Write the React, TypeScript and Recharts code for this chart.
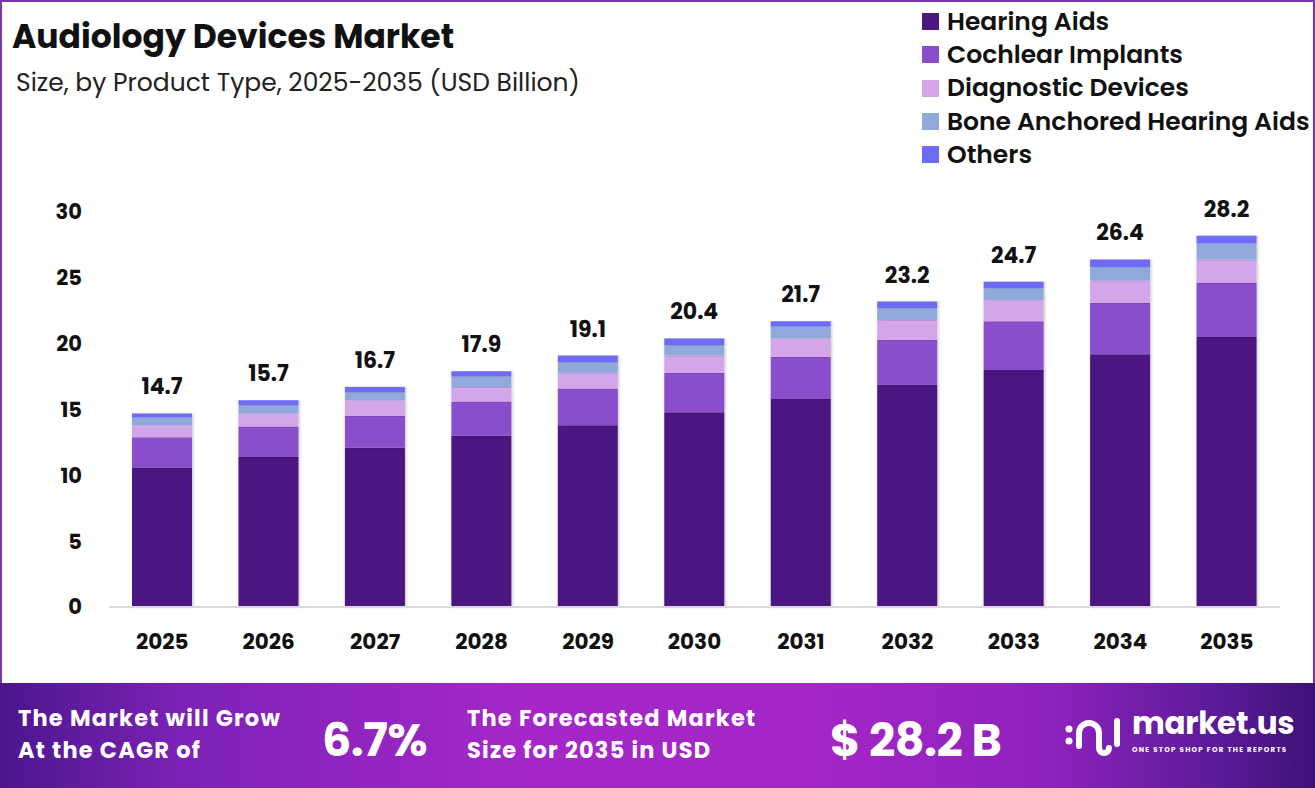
import React from "react";
import { BarChart, Bar, XAxis, YAxis, LabelList } from "recharts";

const years = ["2025", "2026", "2027", "2028", "2029", "2030", "2031", "2032", "2033", "2034", "2035"];
const hearingAids = [10.6, 11.4, 12.1, 13.0, 13.8, 14.8, 15.8, 16.9, 18.0, 19.2, 20.5];
const cochlearImplants = [2.3, 2.3, 2.4, 2.6, 2.8, 3.0, 3.2, 3.4, 3.7, 3.9, 4.1];
const diagnosticDevices = [0.9, 1.0, 1.2, 1.1, 1.2, 1.3, 1.4, 1.5, 1.6, 1.7, 1.8];
const boneAnchored = [0.6, 0.6, 0.6, 0.8, 0.8, 0.8, 0.9, 0.9, 0.9, 1.0, 1.2];
const others = [0.3, 0.4, 0.4, 0.4, 0.5, 0.5, 0.4, 0.5, 0.5, 0.6, 0.6];
const totals = [14.7, 15.7, 16.7, 17.9, 19.1, 20.4, 21.7, 23.2, 24.7, 26.4, 28.2];
const yTicks = [0, 5, 10, 15, 20, 25, 30];

const SERIES = [
  { key: "ha", name: "Hearing Aids", color: "#4c1782" },
  { key: "ci", name: "Cochlear Implants", color: "#8a4ecb" },
  { key: "dd", name: "Diagnostic Devices", color: "#d3a6ea" },
  { key: "ba", name: "Bone Anchored Hearing Aids", color: "#8fa9db" },
  { key: "ot", name: "Others", color: "#6e6cf6" },
];

const FONT = "Poppins, Inter, 'Open Sans', sans-serif";

const data = years.map((y, i) => ({
  year: y,
  ha: hearingAids[i],
  ci: cochlearImplants[i],
  dd: diagnosticDevices[i],
  ba: boneAnchored[i],
  ot: others[i],
  total: totals[i],
}));

// legend drawn as plain html so recharts doesn't shrink the plot for it
const LegendBox = () => (
  <div style={{ position: "absolute", left: 922, top: 5, fontFamily: FONT }}>
    {SERIES.map((s) => (
      <div key={s.key} style={{ display: "flex", alignItems: "center", height: 33.3 }}>
        <div style={{ width: 17, height: 17, background: s.color, marginRight: 8 }} />
        <span style={{ fontSize: 25, fontWeight: 600, color: "#111", whiteSpace: "nowrap", lineHeight: "30px" }}>{s.name}</span>
      </div>
    ))}
  </div>
);

const FooterLine = ({ left, top, children }: any) => (
  <div style={{ position: "absolute", left, top, fontSize: 22.5, fontWeight: 700, lineHeight: "26px", letterSpacing: 1.2, whiteSpace: "nowrap" }}>
    {children}
  </div>
);

const Logo = () => (
  <div style={{ position: "absolute", left: 1062, top: 710, display: "flex", alignItems: "flex-start" }}>
    <svg width={60} height={46} viewBox="0 0 60 46" style={{ marginTop: 2 }}>
      <circle cx={7} cy={17} r={3.5} fill="#fff" />
      <circle cx={7} cy={29} r={3.5} fill="#fff" />
      <path d="M17 34 V21 a10 10 0 0 1 20 0 V36 a5 5 0 0 0 10 0" stroke="#fff" strokeWidth={6} fill="none" strokeLinecap="round" />
      <line x1={55} y1={9} x2={55} y2={32} stroke="#fff" strokeWidth={6} strokeLinecap="round" />
    </svg>
    <div style={{ marginLeft: 10, color: "#fff" }}>
      <div style={{ fontSize: 31, fontWeight: 700, lineHeight: "42px", letterSpacing: -0.3, marginTop: -8 }}>market.us</div>
      <div style={{ fontSize: 7, fontWeight: 700, letterSpacing: 1.3, lineHeight: "9px", marginTop: 1 }}>ONE STOP SHOP FOR THE REPORTS</div>
    </div>
  </div>
);

export default function App() {
  return (
    <div style={{ position: "fixed", left: 0, top: 0, width: 1315, height: 788, background: "#fff", fontFamily: FONT, overflow: "hidden" }}>
      <div style={{ position: "absolute", left: 0, top: 0, width: 1315, height: 700, border: "2px solid #7a35a8", boxSizing: "border-box" }} />
      <div style={{ position: "absolute", left: 12, top: 12, fontSize: 33, fontWeight: 700, color: "#111" }}>
        Audiology Devices Market
      </div>
      <div style={{ position: "absolute", left: 16, top: 64, fontSize: 25, fontWeight: 400, color: "#222" }}>
        Size, by Product Type, 2025-2035 (USD Billion)
      </div>

      <div style={{ position: "absolute", left: 0, top: 0 }}>
        <BarChart width={1315} height={683} data={data} margin={{ top: 212, right: 35, bottom: 46, left: 49 }} barSize={60}>
          <defs>
            <filter id="barShadow" x="-20%" y="-5%" width="140%" height="110%">
              <feDropShadow dx={1} dy={0} stdDeviation={1.5} floodColor="#000" floodOpacity={0.25} />
            </filter>
          </defs>
          <XAxis
            dataKey="year"
            tickLine={false}
            axisLine={{ stroke: "#d9d9d9", strokeWidth: 2 }}
            tickMargin={21}
            tick={{ fontSize: 21.5, fontWeight: 700, fill: "#111", fontFamily: FONT }}
            height={30}
          />
          <YAxis
            domain={[0, 30]}
            ticks={yTicks}
            tickLine={false}
            axisLine={false}
            width={60}
            tickMargin={21}
            tick={{ fontSize: 21, fontWeight: 700, fill: "#111", fontFamily: FONT }}
          />
          {SERIES.map((s, idx) => (
            <Bar
              key={s.key}
              dataKey={s.key}
              name={s.name}
              stackId="a"
              fill={s.color}
              isAnimationActive={false}
              style={{ filter: "url(#barShadow)" }}
            >
              {idx === SERIES.length - 1 && (
                <LabelList
                  dataKey="total"
                  position="top"
                  offset={19}
                  style={{ fontSize: 22, fontWeight: 700, fill: "#111", fontFamily: FONT }}
                />
              )}
            </Bar>
          ))}
        </BarChart>
      </div>
      <LegendBox />

      <div
        style={{
          position: "absolute",
          left: 0,
          top: 683,
          width: 1315,
          height: 105,
          background: "linear-gradient(90deg, #4b168e 0%, #7d22b6 14%, #a527c8 40%, #a426c6 62%, #8d22bd 80%, #5a1a98 93%, #3d1276 100%)",
          color: "#fff",
        }}
      >
        <FooterLine left={18} top={22}>The Market will Grow</FooterLine>
        <FooterLine left={18} top={54}>At the CAGR of</FooterLine>
        <div style={{ position: "absolute", left: 322, top: 23, fontSize: 46, fontWeight: 700, letterSpacing: -0.5 }}>6.7%</div>
        <FooterLine left={467} top={22}>The Forecasted Market</FooterLine>
        <FooterLine left={467} top={54}>Size for 2035 in USD</FooterLine>
        <div style={{ position: "absolute", left: 830, top: 23, fontSize: 46, fontWeight: 700, letterSpacing: -0.5 }}>$ 28.2 B</div>
      </div>
      <Logo />
    </div>
  );
}
